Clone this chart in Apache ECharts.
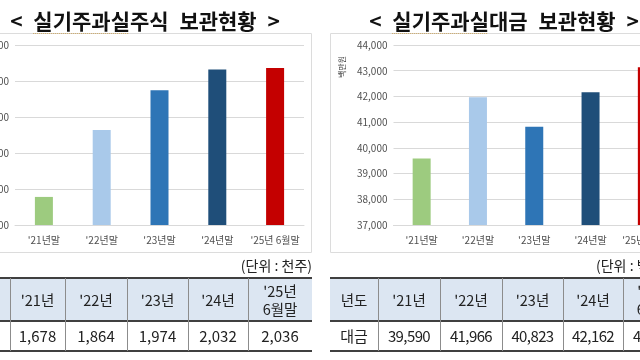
<!DOCTYPE html>
<html><head><meta charset="utf-8">
<script src="https://cdn.jsdelivr.net/npm/echarts@6/dist/echarts.min.js"></script>
<style>
html,body{margin:0;padding:0;width:640px;height:360px;overflow:hidden;background:#fff;font-family:"Noto Sans CJK KR","Noto Sans",sans-serif;}
#chart{position:absolute;left:0;top:0;width:640px;height:360px;}
.title{position:absolute;top:6px;font-size:21px;font-weight:bold;color:#111;white-space:pre;transform:translateX(-50%);line-height:28px;word-spacing:6px;}
.u{text-decoration:underline dotted #c9a35e;text-underline-offset:4px;text-decoration-thickness:1px;}
.unit{position:absolute;top:256px;font-size:14px;color:#222;white-space:nowrap;line-height:18px}
.cell{position:absolute;display:flex;align-items:center;justify-content:center;text-align:center;font-size:14.5px;color:#222;box-sizing:border-box;line-height:18px;white-space:pre;}
.hdr{background:#dce6f2}
.hl{position:absolute;height:2px;background:#404040}
.vl{position:absolute;width:1px;background:#8c8c8c}
</style>
</head><body>
<div id="chart"></div>
<div id="overlay"></div>
<script>
// ---- data ----
const categories = ["'21년말", "'22년말", "'23년말", "'24년말", "'25년 6월말"];
const stockValues = [1678, 1864, 1974, 2032, 2036];      // 천주
const cashValues = [39590, 41966, 40823, 42162, 43133];  // 백만원
const barColors = ["#9dcb7f", "#a9c9ea", "#2e75b6", "#1f4e79", "#c40000"];
const stockAxis = [1600, 2100, 100];
const cashAxis = [37000, 44000, 1000];
const tableHeaders = ["'21년", "'22년", "'23년", "'24년", "'25년\n6월말"];
const stockTableValues = ["1,678", "1,864", "1,974", "2,032", "2,036"];
const cashTableValues = ["39,590", "41,966", "40,823", "42,162", "43,133"];
const titles = [["실기주과실", "주식 보관현황"], ["실기주과실", "대금 보관현황"]];
const units = ["(단위 : 천주)", "(단위 : 백만원)"];
const rowLabels = [["년도", "주식"], ["년도", "대금"]];

// ---- overlay html (titles, tables) ----
const ov = document.getElementById('overlay');
function add(html) { ov.insertAdjacentHTML('beforeend', html); }
add(`<div class="title" style="left:145px">&lt; <span class="u">${titles[0][0]}</span>${titles[0][1]} &gt;</div>`);
add(`<div class="title" style="left:504px">&lt; <span class="u">${titles[1][0]}</span>${titles[1][1]} &gt;</div>`);
add(`<div class="unit" style="right:328px">${units[0]}</div>`);
add(`<div class="unit" style="left:596px">${units[1]}</div>`);

function table(edges, firstCol, vals, narrow) {
  const y0 = 278, y1 = 321, y2 = 351;
  const labels = [firstCol[0]].concat(tableHeaders);
  const data = [firstCol[1]].concat(vals);
  for (let i = 0; i < edges.length - 1; i++) {
    const x = edges[i], w = edges[i + 1] - edges[i];
    const ls = narrow && i > 0 ? 'letter-spacing:-0.6px;' : '';
    add(`<div class="cell hdr" style="left:${x}px;top:${y0}px;width:${w}px;height:${y1 - y0}px">${labels[i]}</div>`);
    add(`<div class="cell" style="left:${x}px;top:${y1}px;width:${w}px;height:${y2 - y1}px;font-size:15px;${ls}">${data[i]}</div>`);
  }
  const xa = edges[0], xb = edges[edges.length - 1];
  [y0, y1, y2].forEach(y => add(`<div class="hl" style="left:${xa}px;top:${y - 1}px;width:${xb - xa}px"></div>`));
  for (let i = 1; i < edges.length - 1; i++)
    add(`<div class="vl" style="left:${edges[i]}px;top:${y0}px;height:${y2 - y0}px"></div>`);
}
table([-38, 10, 65, 127, 188, 248, 312], rowLabels[0], stockTableValues, false);
table([330, 378, 440, 502, 563, 623, 685], rowLabels[1], cashTableValues, true);

// ---- charts ----
const chart = echarts.init(document.getElementById('chart'), null, { renderer: 'canvas' });
const fmt = v => v.toLocaleString('en-US');
const axisLabelStyle = { color: '#505050', fontSize: 10, fontFamily: '"Noto Sans CJK KR", sans-serif' };
function yAx(idx, a) {
  return {
    type: 'value', gridIndex: idx, min: a[0], max: a[1], interval: a[2],
    axisLabel: Object.assign({ formatter: fmt, margin: 6 }, axisLabelStyle),
    splitLine: { lineStyle: { color: '#d9d9d9', width: 1 } },
    axisLine: { show: false }, axisTick: { show: false }
  };
}
function xAx(idx) {
  return {
    type: 'category', gridIndex: idx, data: categories,
    axisLabel: Object.assign({ margin: 10, interval: 0 }, axisLabelStyle),
    axisLine: { show: true, lineStyle: { color: '#d9d9d9' } },
    axisTick: { show: false }
  };
}
function barData(vals) {
  return vals.map((v, i) => ({ value: v, itemStyle: { color: barColors[i] } }));
}
chart.setOption({
  animation: false,
  grid: [
    { left: 15, width: 289, top: 45, height: 180, containLabel: false, outerBoundsMode: 'none' },
    { left: 393.5, width: 281.5, top: 45, height: 180, containLabel: false, outerBoundsMode: 'none' }
  ],
  xAxis: [xAx(0), xAx(1)],
  yAxis: [yAx(0, stockAxis), yAx(1, cashAxis)],
  series: [
    { type: 'bar', xAxisIndex: 0, yAxisIndex: 0, data: barData(stockValues), barWidth: 18 },
    { type: 'bar', xAxisIndex: 1, yAxisIndex: 1, data: barData(cashValues), barWidth: 18 }
  ],
  graphic: [
    { type: 'rect', shape: { x: -5, y: 33.5, width: 316.5, height: 219 }, style: { fill: 'none', stroke: '#dcdcdc', lineWidth: 1 }, z: -1 },
    { type: 'rect', shape: { x: 330.5, y: 33.5, width: 400, height: 219 }, style: { fill: 'none', stroke: '#dcdcdc', lineWidth: 1 }, z: -1 },
    { type: 'text', x: 338, y: 78, rotation: Math.PI / 2, style: { text: '백만원', fontSize: 8, fill: '#404040', fontFamily: '"Noto Sans CJK KR", sans-serif' } }
  ]
});
</script>
</body></html>
